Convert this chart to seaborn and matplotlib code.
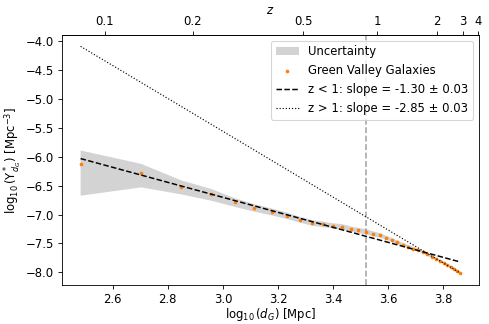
import numpy as np
import pandas as pd
import matplotlib
matplotlib.use("Agg")
import matplotlib.pyplot as plt
import seaborn as sns

# ---- data ----
log_d = [2.484, 2.704, 2.849, 2.958, 3.043, 3.114, 3.178, 3.232, 3.280, 3.325,
         3.362, 3.399, 3.433, 3.464, 3.491, 3.518, 3.545, 3.570, 3.593, 3.613,
         3.633, 3.653, 3.672, 3.691, 3.709, 3.725, 3.741, 3.757, 3.772, 3.786,
         3.801, 3.814, 3.827, 3.839, 3.850, 3.861]
log_gamma = [-6.129, -6.285, -6.522, -6.643, -6.790, -6.887, -6.957, -7.021, -7.090, -7.145,
             -7.168, -7.195, -7.210, -7.252, -7.275, -7.293, -7.333, -7.360, -7.400, -7.440,
             -7.480, -7.520, -7.555, -7.588, -7.615, -7.645, -7.687, -7.728, -7.763, -7.798,
             -7.833, -7.868, -7.903, -7.937, -7.972, -8.007]
band_upper = [-5.890, -6.122, -6.407, -6.557, -6.715, -6.820, -6.895, -6.965, -7.040, -7.095,
              -7.120, -7.150, -7.165, -7.205, -7.230, -7.250, -7.290, -7.320, -7.365, -7.405,
              -7.450, -7.490, -7.525, -7.560, -7.590, -7.620, -7.662, -7.705, -7.742, -7.778,
              -7.813, -7.850, -7.885, -7.920, -7.955, -7.990]
band_lower = [-6.673, -6.529, -6.650, -6.760, -6.865, -6.950, -7.015, -7.075, -7.140, -7.195,
              -7.215, -7.240, -7.255, -7.300, -7.320, -7.340, -7.375, -7.400, -7.435, -7.475,
              -7.510, -7.550, -7.585, -7.615, -7.640, -7.670, -7.712, -7.750, -7.784, -7.818,
              -7.853, -7.886, -7.921, -7.954, -7.989, -8.024]

slope_low, icpt_low = -1.30, -2.801     # z < 1 fit
slope_high, icpt_high = -2.85, 2.992    # z > 1 fit
z_one_logd = 3.519                      # log10 d_G at z = 1

z_tick_labels = ["0.1", "0.2", "0.5", "1", "2", "3", "4"]
z_tick_logd = [2.571, 2.891, 3.292, 3.559, 3.775, 3.872, 3.926]

plt.rcParams["font.size"] = 11

DPI = 76.4
# ---- figure ----
fig = plt.figure(figsize=(489 / DPI, 324 / DPI), dpi=DPI)
ax = fig.add_axes([0.126, 0.120, 0.854, 0.772])

df = pd.DataFrame({"log_d": log_d, "log_gamma": log_gamma})

ax.fill_between(log_d, band_lower, band_upper, color="lightgray",
                edgecolor="none", label="Uncertainty", zorder=1)

sns.scatterplot(data=df, x="log_d", y="log_gamma", ax=ax, color="#ff7f0e",
                s=12, linewidth=0, label="Green Valley Galaxies", zorder=3)

x_fit = np.array([min(log_d), max(log_d)])
lo = pd.DataFrame({"x": x_fit, "y": slope_low * x_fit + icpt_low})
hi = pd.DataFrame({"x": x_fit, "y": slope_high * x_fit + icpt_high})
sns.lineplot(data=lo, x="x", y="y", ax=ax, color="black", linestyle="--",
             linewidth=1.4, label=f"z < 1: slope = {slope_low:.2f} ± 0.03", zorder=4)
sns.lineplot(data=hi, x="x", y="y", ax=ax, color="black", linestyle=":",
             linewidth=1.1, label=f"z > 1: slope = {slope_high:.2f} ± 0.03", zorder=4)

ax.axvline(z_one_logd, color="gray", linestyle="--", linewidth=1.5, alpha=0.7, zorder=2)

ax.set_xlabel(r"$\log_{10}(d_G)$ [Mpc]", labelpad=0.5)
ax.set_ylabel(r"$\log_{10}(\Upsilon^*_{d_G})$ [Mpc$^{-3}$]", labelpad=2)
ax.set_xticks([2.6, 2.8, 3.0, 3.2, 3.4, 3.6, 3.8])
ax.set_yticks([-4.0, -4.5, -5.0, -5.5, -6.0, -6.5, -7.0, -7.5, -8.0])

ax.legend(loc="upper right")

sec = ax.secondary_xaxis("top")
sec.set_xticks(z_tick_logd)
sec.set_xticklabels(z_tick_labels)
sec.set_xlabel(r"$z$", labelpad=1)

fig.savefig("out.png", dpi=DPI)
